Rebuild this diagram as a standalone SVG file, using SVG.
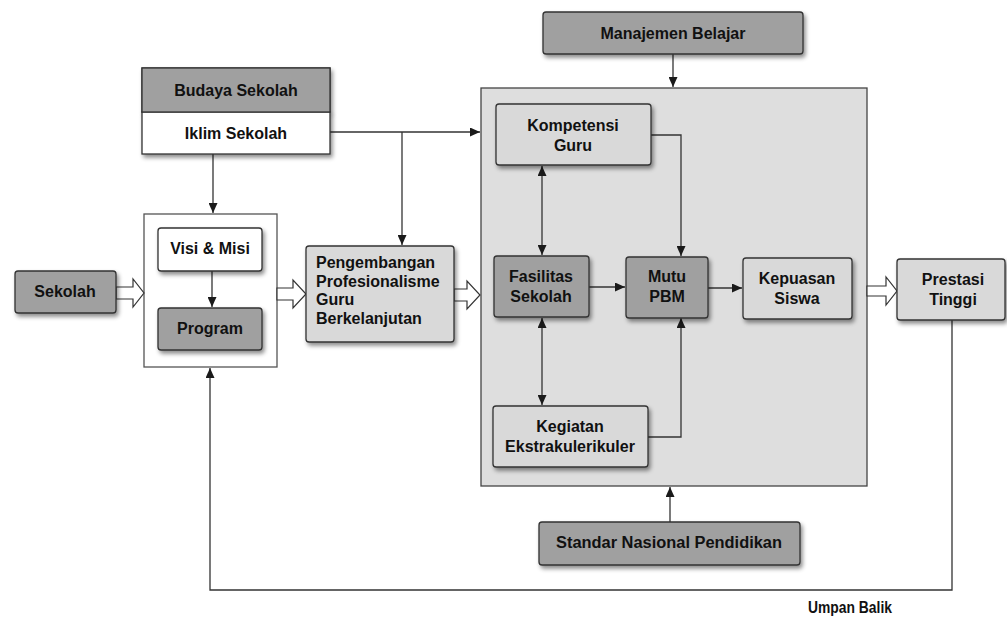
<svg xmlns="http://www.w3.org/2000/svg" width="1007" height="617" viewBox="0 0 1007 617">
<defs>
<filter id="sh" x="-10%" y="-10%" width="130%" height="140%">
<feDropShadow dx="2" dy="3" stdDeviation="2" flood-color="#000" flood-opacity="0.45"/>
</filter>
<marker id="ah" markerUnits="userSpaceOnUse" markerWidth="10" markerHeight="9" refX="10" refY="4.5" orient="auto-start-reverse">
<path d="M0,0 L10,4.5 L0,9 z" fill="#1a1a1a"/>
</marker>
</defs>
<style>
text{font-family:"Liberation Sans",Arial,sans-serif;font-weight:bold;font-size:16px;fill:#111;}
.c{text-anchor:middle;}
.dk{fill:#a0a0a0;stroke:#333;stroke-width:1.3;}
.lt{fill:#d9d9d9;stroke:#333;stroke-width:1.3;}
.wt{fill:#fff;stroke:#333;stroke-width:1.3;}
.ln{fill:none;stroke:#333;stroke-width:1.3;}
.ho{fill:#fff;stroke:#333;stroke-width:1.2;stroke-linejoin:miter;}
.nar{font-family:"Liberation Sans Narrow","Liberation Sans",Arial,sans-serif;}
</style>
<rect width="1007" height="617" fill="#fff"/>

<g id="bigbox">
<rect x="481" y="88" width="386" height="398" fill="#dedede" stroke="#444" stroke-width="1.3"/>
</g>
<g id="container">
<rect x="144" y="214" width="133" height="153" fill="#fff" stroke="#555" stroke-width="1.3"/>
</g>

<g id="connectors">
<path class="ln" d="M213,154 V213" marker-end="url(#ah)"/>
<path class="ln" d="M212,271 V307" marker-end="url(#ah)"/>
<path class="ln" d="M330,132 H480" marker-end="url(#ah)"/>
<path class="ln" d="M402,132 V245" marker-end="url(#ah)"/>
<path class="ln" d="M673,54 V87" marker-end="url(#ah)"/>
<path class="ln" d="M670,522 V487" marker-end="url(#ah)"/>
<path class="ln" d="M651,135 H681 V256" marker-end="url(#ah)"/>
<path class="ln" d="M648,437 H681 V318" marker-end="url(#ah)"/>
<path class="ln" d="M589,287 H625" marker-end="url(#ah)"/>
<path class="ln" d="M708,288 H742" marker-end="url(#ah)"/>
<path class="ln" d="M542,166 V255" marker-start="url(#ah)" marker-end="url(#ah)"/>
<path class="ln" d="M542,318 V405" marker-start="url(#ah)" marker-end="url(#ah)"/>
<path class="ln" d="M952,320 V590 H210 V368" marker-end="url(#ah)"/>
<polygon class="ho" points="116,287 133,287 133,279 144,293 133,307 133,299 116,299"/>
<polygon class="ho" points="277,288 293,288 293,280 306,294 293,308 293,300 277,300"/>
<polygon class="ho" points="454,289 467,289 467,281 480,295 467,309 467,301 454,301"/>
<polygon class="ho" points="867,286 886,286 886,277 897,291 886,305 886,296 867,296"/>
</g>

<g id="budaya">
<rect class="dk" x="142" y="68" width="188" height="44" filter="url(#sh)"/>
<rect class="wt" x="142" y="112" width="188" height="42" filter="url(#sh)"/>
<rect class="dk" x="142" y="68" width="188" height="44"/>
<text class="c" x="236" y="96">Budaya Sekolah</text>
<text class="c" x="236" y="139">Iklim Sekolah</text>
</g>

<g id="sekolah">
<rect class="dk" x="15" y="271" width="101" height="42" rx="3" filter="url(#sh)"/>
<text class="c" x="65" y="297">Sekolah</text>
</g>

<g id="visi">
<rect class="wt" x="158" y="228" width="104" height="43" rx="3" filter="url(#sh)"/>
<text class="c" x="210" y="254">Visi &amp; Misi</text>
</g>

<g id="program">
<rect class="dk" x="158" y="308" width="104" height="42" rx="3" filter="url(#sh)"/>
<text class="c" x="210" y="334">Program</text>
</g>

<g id="pengembangan">
<rect class="lt" x="306" y="246" width="148" height="96" rx="3" filter="url(#sh)"/>
<text x="316" y="268">Pengembangan</text>
<text x="316" y="286.5">Profesionalisme</text>
<text x="316" y="305">Guru</text>
<text x="316" y="323.5">Berkelanjutan</text>
</g>

<g id="manajemen">
<rect class="dk" x="543" y="12" width="260" height="42" rx="3" filter="url(#sh)"/>
<text class="c" x="673" y="39">Manajemen Belajar</text>
</g>

<g id="kompetensi">
<rect class="lt" x="496" y="104" width="155" height="61" rx="3" filter="url(#sh)"/>
<text class="c" x="573" y="131">Kompetensi</text>
<text class="c" x="573" y="151">Guru</text>
</g>

<g id="fasilitas">
<rect class="dk" x="494" y="256" width="95" height="61" rx="3" filter="url(#sh)"/>
<text class="c" x="541" y="282">Fasilitas</text>
<text class="c" x="541" y="302">Sekolah</text>
</g>

<g id="mutu">
<rect class="dk" x="626" y="257" width="82" height="61" rx="3" filter="url(#sh)"/>
<text class="c" x="667" y="282">Mutu</text>
<text class="c" x="667" y="302">PBM</text>
</g>

<g id="kepuasan">
<rect class="lt" x="743" y="258" width="109" height="61" rx="3" filter="url(#sh)"/>
<text class="c" x="797" y="284">Kepuasan</text>
<text class="c" x="797" y="304">Siswa</text>
</g>

<g id="kegiatan">
<rect class="lt" x="493" y="406" width="155" height="61" rx="3" filter="url(#sh)"/>
<text class="c" x="570" y="432">Kegiatan</text>
<text class="c" x="570" y="452">Ekstrakulerikuler</text>
</g>

<g id="prestasi">
<rect class="lt" x="897" y="259" width="108" height="61" rx="3" filter="url(#sh)"/>
<text class="c" x="953" y="285">Prestasi</text>
<text class="c" x="953" y="305">Tinggi</text>
</g>

<g id="standar">
<rect class="dk" x="539" y="522" width="261" height="43" rx="3" filter="url(#sh)"/>
<text class="c nar" x="669" y="548" font-size="18" textLength="226" lengthAdjust="spacingAndGlyphs">Standar Nasional Pendidikan</text>
</g>

<g id="umpan">
<text class="c nar" x="850" y="613" font-size="16" textLength="84" lengthAdjust="spacingAndGlyphs">Umpan Balik</text>
</g>
</svg>
